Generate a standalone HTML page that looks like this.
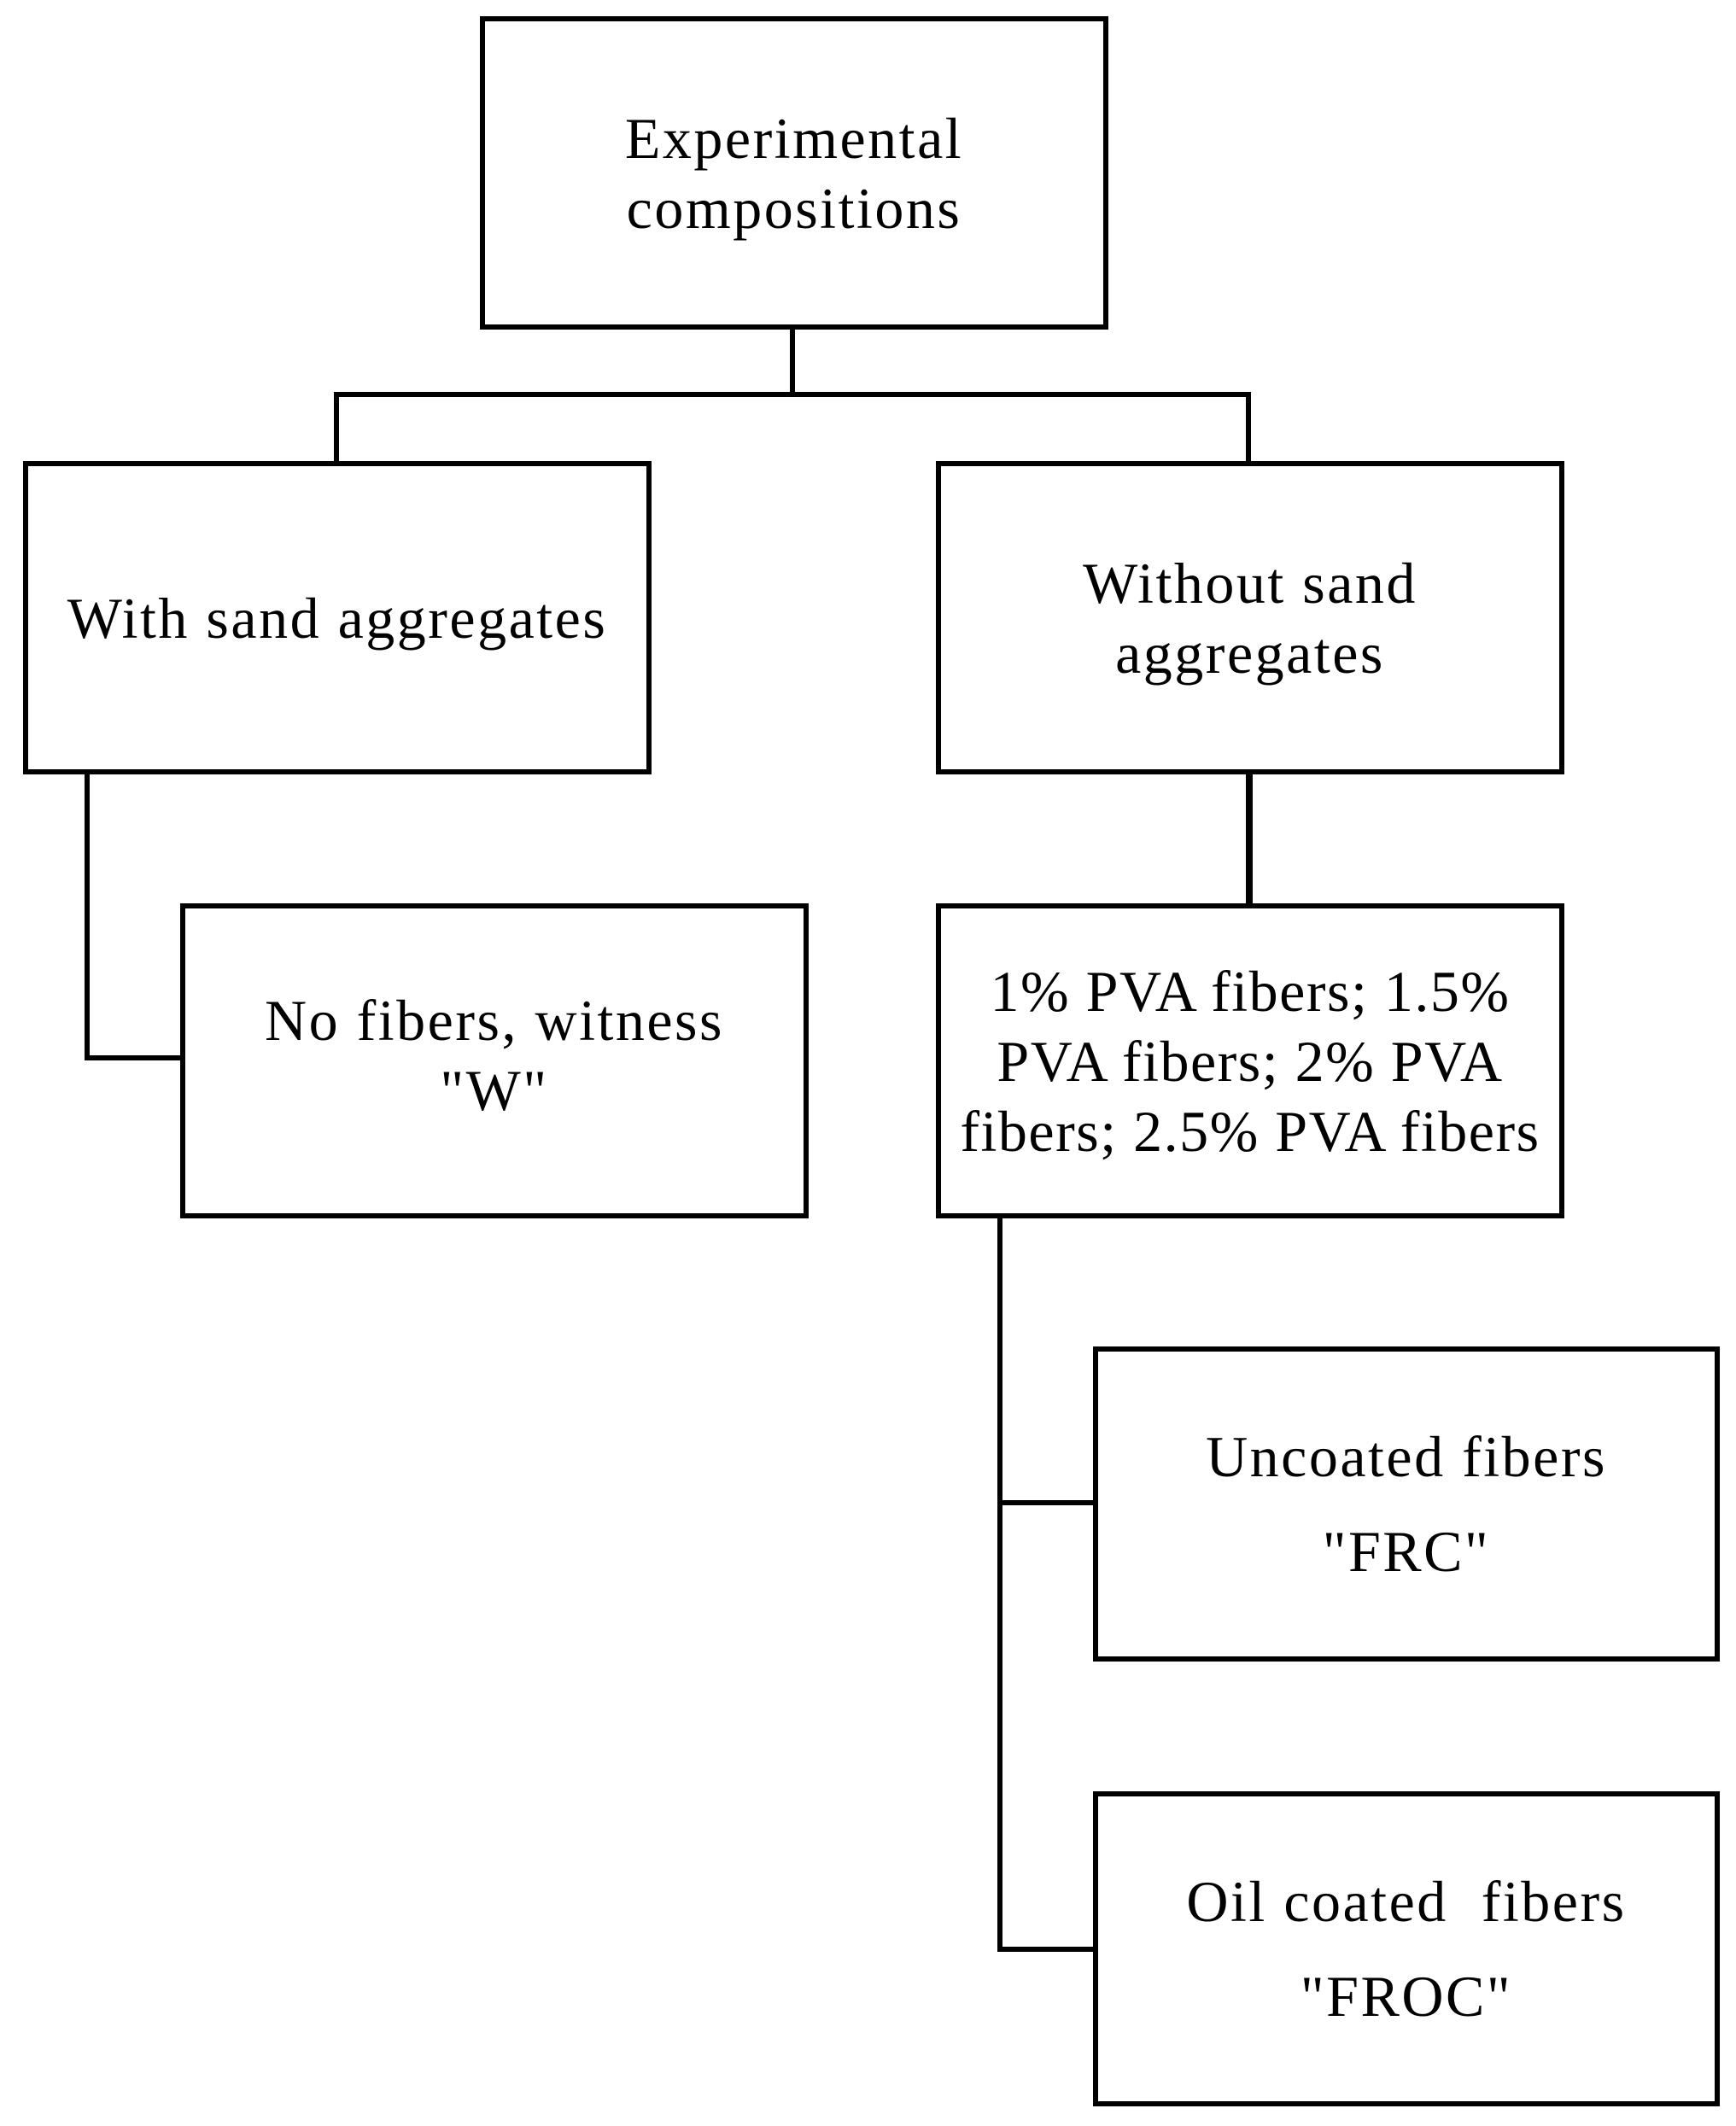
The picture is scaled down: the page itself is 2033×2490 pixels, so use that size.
<!DOCTYPE html>
<html><head><style>
html,body{margin:0;padding:0;background:#fff;}
body{width:2033px;height:2490px;position:relative;overflow:hidden;font-family:"Liberation Serif",serif;}
.b{position:absolute;box-sizing:border-box;border:6px solid #000;display:flex;align-items:center;justify-content:center;text-align:center;font-size:68px;letter-spacing:2.5px;line-height:82px;color:#000;white-space:nowrap;}
.l{position:absolute;background:#000;}
</style></head><body>
<div class="b" style="left:562px;top:19px;width:736px;height:367px;">Experimental<br>compositions</div>
<div class="l" style="left:925px;top:384px;width:6px;height:80px;"></div>
<div class="l" style="left:391px;top:459px;width:1074px;height:6px;"></div>
<div class="l" style="left:391px;top:459px;width:6px;height:83px;"></div>
<div class="l" style="left:1459px;top:459px;width:6px;height:83px;"></div>
<div class="b" style="left:27px;top:540px;width:736px;height:367px;">With sand aggregates</div>
<div class="b" style="left:1096px;top:540px;width:736px;height:367px;">Without sand<br>aggregates</div>
<div class="l" style="left:99px;top:905px;width:6px;height:337px;"></div>
<div class="l" style="left:99px;top:1236px;width:114px;height:6px;"></div>
<div class="l" style="left:1459px;top:905px;width:8px;height:155px;"></div>
<div class="b" style="left:211px;top:1058px;width:736px;height:369px;padding-bottom:14px;">No fibers, witness<br>"W"</div>
<div class="b" style="left:1096px;top:1058px;width:736px;height:369px;letter-spacing:1.5px;">1% PVA fibers; 1.5%<br>PVA fibers; 2% PVA<br>fibers; 2.5% PVA fibers</div>
<div class="l" style="left:1168px;top:1425px;width:6px;height:860px;"></div>
<div class="l" style="left:1168px;top:1757px;width:114px;height:6px;"></div>
<div class="l" style="left:1168px;top:2280px;width:114px;height:6px;"></div>
<div class="b" style="left:1280px;top:1577px;width:734px;height:369px;line-height:111px;">Uncoated fibers<br>"FRC"</div>
<div class="b" style="left:1280px;top:2098px;width:734px;height:369px;line-height:111px;">Oil coated&nbsp; fibers<br>"FROC"</div>
</body></html>
